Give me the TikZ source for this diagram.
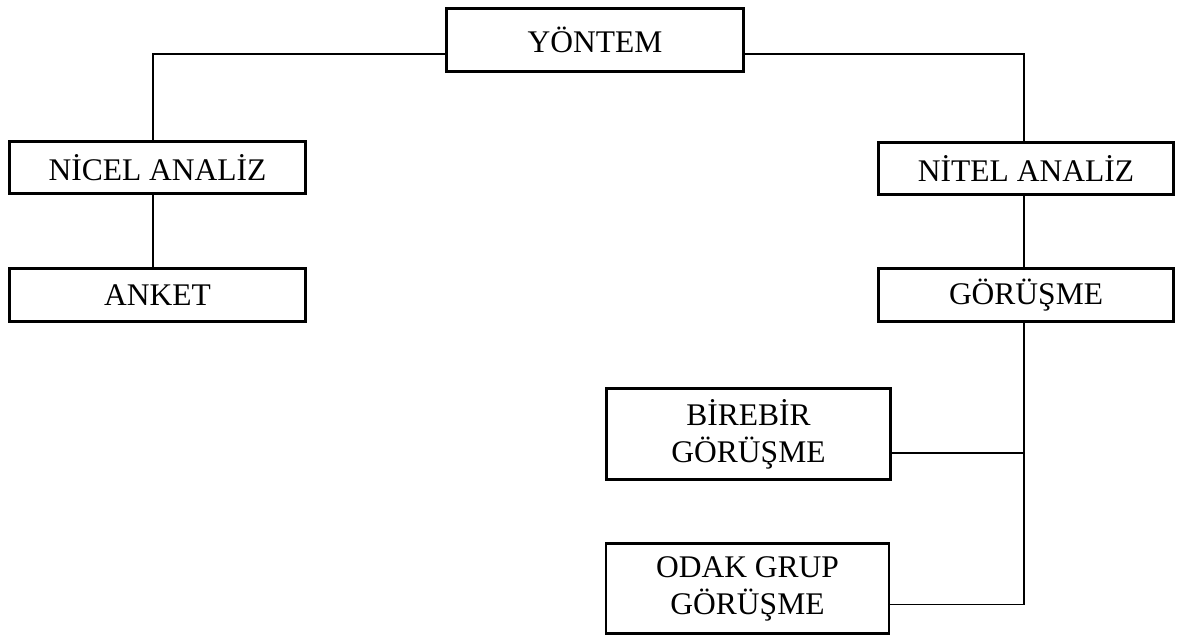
\documentclass[tikz,border=0pt]{standalone}
\usepackage{fontspec}
\setmainfont{Liberation Serif}
\begin{document}
\begin{tikzpicture}[x=1pt,y=1pt,
  box/.style={draw=black,line width=2.8pt,inner sep=0pt,align=center,
    font=\fontsize{31.5}{37}\selectfont,text=black},
  conn/.style={draw=black,line width=1.9pt}]
\useasboundingbox (0,0) rectangle (1177,-636);
\node[box,minimum width=297,minimum height=63] (yontem) at (595,-40) {YÖNTEM};
\node[box,minimum width=296,minimum height=52] (nicel) at (157.5,-167.5) {NİCEL ANALİZ};
\node[box,minimum width=296,minimum height=53] (anket) at (157.5,-295) {ANKET};
\node[box,minimum width=295,minimum height=52] (nitel) at (1026,-168.5) {NİTEL ANALİZ};
\node[box,minimum width=295,minimum height=53] (gorusme) at (1026,-295) {GÖRÜŞME};
\node[box,minimum width=284,minimum height=91] (birebir) at (748.5,-434) {BİREBİR\\GÖRÜŞME};
\node[box,minimum width=283,minimum height=90] (odak) at (747.5,-588.5) {ODAK GRUP\\GÖRÜŞME};
\coordinate (lj) at (153,-54);
\coordinate (rj) at (1024,-54);
\coordinate (bj) at ([yshift=-19pt]birebir.east);
\coordinate (oj) at ([yshift=-16pt]odak.east);
\draw[conn] (yontem.west |- lj) -- (lj) -- (lj |- nicel.north);
\draw[conn] (lj |- nicel.south) -- (lj |- anket.north);
\draw[conn] (yontem.east |- rj) -- (rj) -- (rj |- nitel.north);
\draw[conn] (rj |- nitel.south) -- (rj |- gorusme.north);
\draw[conn] (rj |- gorusme.south) -- (rj |- oj) -- (oj);
\draw[conn] (bj) -- (rj |- bj);
\end{tikzpicture}
\end{document}
